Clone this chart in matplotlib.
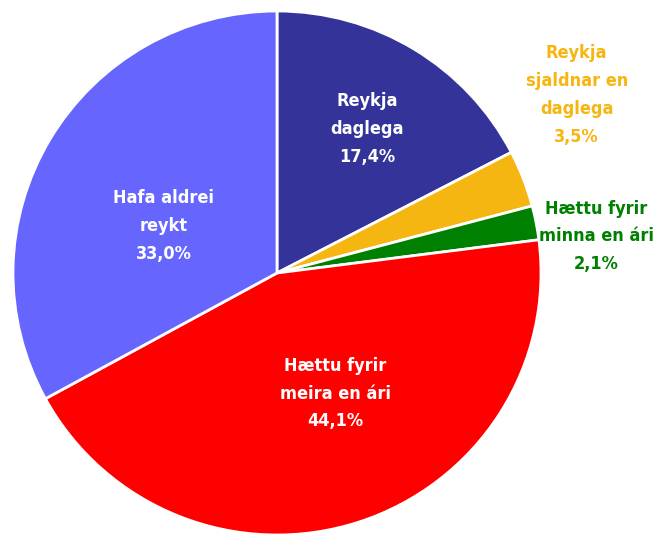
import matplotlib.pyplot as plt

labels = ['Reykja\ndaglega', 'Reykja\nsjaldnar en\ndaglega', 'Hættu fyrir\nminna en ári',
          'Hættu fyrir\nmeira en ári', 'Hafa aldrei\nreykt']
values = [17.4, 3.5, 2.1, 44.1, 33.0]
colors = ['#333399', '#F6B611', '#008000', '#FF0000', '#6666FF']
label_colors = ['white', '#F6B611', '#008000', 'white', 'white']
label_pos = [(0.34, 0.55), (1.135, 0.68), (1.21, 0.14), (0.22, -0.46), (-0.43, 0.18)]

fig = plt.figure(figsize=(6.67, 5.37), dpi=100)
ax = fig.add_axes([13 / 667, 1 - 535 / 537, 528 / 667, 524 / 537])
ax.pie(values, colors=colors, startangle=90, counterclock=False,
       wedgeprops=dict(edgecolor='white', linewidth=2))
ax.set_aspect('auto')
ax.set_xlim(-1, 1)
ax.set_ylim(-1, 1)
ax.axis('off')

for lab, v, c, (x, y) in zip(labels, values, label_colors, label_pos):
    txt = lab + '\n' + f'{v:.1f}'.replace('.', ',') + '%'
    ax.text(x, y, txt, ha='center', va='center', color=c, fontsize=13,
            fontweight='bold', fontstretch='condensed', linespacing=1.7,
            family=['DejaVu Sans'], clip_on=False)

fig.savefig('out.png', dpi=100)
